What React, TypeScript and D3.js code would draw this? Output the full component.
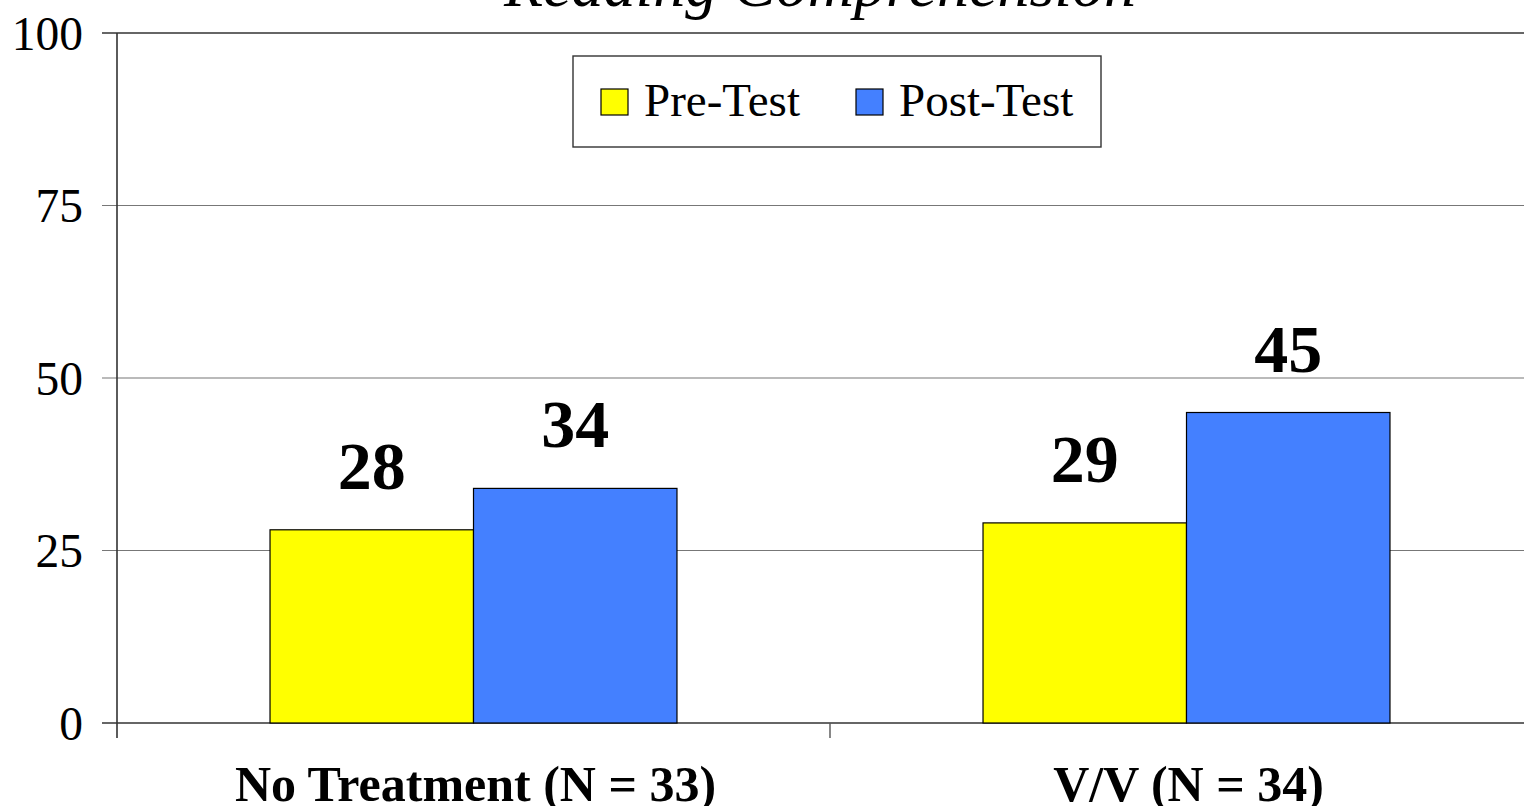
import React from "react";
import * as d3 from "d3";

// Reading comprehension scores before and after treatment
const categories = ["No Treatment (N = 33)", "V/V (N = 34)"];
const seriesNames = ["Pre-Test", "Post-Test"];
const preTest = [28, 29];
const postTest = [34, 45];
const yTicks = [0, 25, 50, 75, 100];
const seriesColors = ["#FFFF00", "#4480FF"];

const W = 1524;
const H = 806;
const margin = { left: 117, top: 33, bottom: 723 };
const plotRight = 1543;
const serif = "'Liberation Serif', 'Times New Roman', serif";

export default function App() {
  const x0 = d3.scaleBand<string>().domain(categories).range([margin.left, plotRight]);
  const x1 = d3
    .scaleBand<string>()
    .domain(seriesNames)
    .range([0, x0.bandwidth()])
    .paddingOuter(0.752)
    .paddingInner(0);
  const y = d3.scaleLinear().domain([0, 100]).range([margin.bottom, margin.top]);
  const values = [preTest, postTest];

  return (
    <svg
      width={W}
      height={H}
      style={{ position: "absolute", left: 0, top: 0, display: "block", background: "#fff" }}
      fontFamily={serif}
    >
      <text
        x={820}
        y={6}
        textAnchor="middle"
        fontSize={64}
        fontStyle="italic"
        fill="#000"
      >
        Reading Comprehension
      </text>

      {/* gridlines */}
      {yTicks.map((t) => (
        <line
          key={"g" + t}
          x1={margin.left - 15}
          x2={W}
          y1={y(t)}
          y2={y(t)}
          stroke={t === 0 || t === 100 ? "#333" : "#777"}
          strokeWidth={t === 0 || t === 100 ? 1.6 : 1.2}
        />
      ))}

      {/* y axis */}
      <line x1={margin.left} x2={margin.left} y1={y(100)} y2={margin.bottom + 15} stroke="#333" strokeWidth={1.6} />
      {yTicks.map((t) => (
        <text
          key={"t" + t}
          x={83}
          y={y(t)}
          dy="0.35em"
          textAnchor="end"
          fontSize={47.5}
          fill="#000"
        >
          {t}
        </text>
      ))}

      {/* category divider ticks */}
      {categories.slice(1).map((c) => (
        <line
          key={"d" + c}
          x1={x0(c)}
          x2={x0(c)}
          y1={margin.bottom}
          y2={margin.bottom + 15}
          stroke="#555"
          strokeWidth={1.4}
        />
      ))}

      {/* bars */}
      {categories.map((c, ci) =>
        seriesNames.map((s, si) => {
          const v = values[si][ci];
          const bx = (x0(c) ?? 0) + (x1(s) ?? 0);
          return (
            <g key={c + s}>
              <rect
                x={bx}
                y={y(v)}
                width={x1.bandwidth()}
                height={y(0) - y(v)}
                fill={seriesColors[si]}
                stroke="#000"
                strokeWidth={1.2}
              />
              <text
                x={bx + x1.bandwidth() / 2}
                y={y(v) - 41}
                textAnchor="middle"
                fontSize={68}
                fontWeight="bold"
                fill="#000"
              >
                {v}
              </text>
            </g>
          );
        })
      )}

      {/* category labels */}
      {categories.map((c) => (
        <text
          key={"c" + c}
          x={(x0(c) ?? 0) + x0.bandwidth() / 2 + 2}
          y={801}
          textAnchor="middle"
          fontSize={50}
          fontWeight="bold"
          fill="#000"
        >
          {c}
        </text>
      ))}

      {/* legend */}
      <g>
        <rect x={573} y={56} width={528} height={91} fill="#fff" stroke="#333" strokeWidth={1.4} />
        {seriesNames.map((s, i) => {
          const lx = i === 0 ? 601 : 856;
          return (
            <g key={"l" + s}>
              <rect x={lx} y={89} width={27} height={26} fill={seriesColors[i]} stroke="#000" strokeWidth={1.2} />
              <text x={lx + 43} y={116} fontSize={47} fill="#000">
                {s}
              </text>
            </g>
          );
        })}
      </g>
    </svg>
  );
}
